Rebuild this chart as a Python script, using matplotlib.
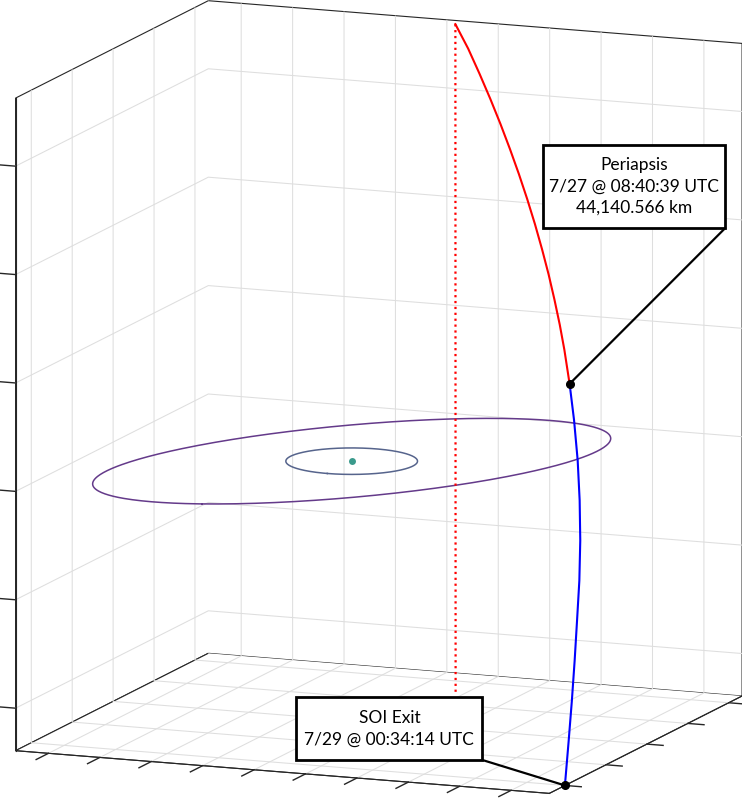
# -*- coding: UTF-8 -*-
import numpy as np
import matplotlib
matplotlib.use("Agg")
import matplotlib.pyplot as plt
from matplotlib.patches import Rectangle
from matplotlib.ticker import NullFormatter
from mpl_toolkits.mplot3d import proj3d

plt.rcParams['font.family'] = ['Lato', 'DejaVu Sans']

W_PX, H_PX = 742, 799

# axis limits and ticks (km), body at the origin
x_lim = (-46520, 47680)
y_lim = (-46400, 57420)
z_lim = (-47840, 72560)
x_ticks = [-40000, -20000, 0, 20000, 40000]
y_ticks = [-40000, -30000, -20000, -10000, 0, 10000, 20000, 30000, 40000, 50000]
z_ticks = [-40000, -20000, 0, 20000, 40000, 60000]

# orbits (km, deg)
inner_orbit_r = 11900
outer_orbit_r = 47000
outer_orbit_inc = 6.2
outer_orbit_node = -13.5

# inbound leg: SOI entry -> periapsis (km)
inbound_x = [-46280, -43330, -40330, -37350, -34370, -31410, -28460, -25520,
             -22600, -19680, -16780, -13890, -11010, -8140, -4270]
inbound_y = [1755, 5410, 8810, 12090, 15250, 18280, 21200, 23990,
             26660, 29200, 31630, 33910, 36090, 38130, 40690]
inbound_z = [71930, 68270, 64470, 60660, 56840, 53000, 49150, 45300,
             41430, 37550, 33650, 29750, 25830, 21900, 16540]
# outbound leg: periapsis -> SOI exit (km)
outbound_x = [-4270, -180, 4330, 8810, 13260, 17680, 22080, 26470, 30850, 35230, 40040]
outbound_y = [40690, 43180, 45680, 47850, 49740, 51320, 52620, 53900, 55100, 56220, 57410]
outbound_z = [16540, 10840, 4480, -1910, -8330, -14780, -21250, -27720, -34200, -40690, -47830]
# dotted guide from the SOI entry
guide_x = [-46280, -29820]
guide_y = [1755, 8350]
guide_z = [71930, -47800]

peri_label = "Periapsis\n7/27 @ 08:40:39 UTC\n44,140.566 km"
exit_label = "SOI Exit\n7/29 @ 00:34:14 UTC"

fig = plt.figure(figsize=(W_PX / 100, H_PX / 100), dpi=100)
ax = fig.add_subplot(projection='3d', proj_type='ortho')
ax.set_position([0, 0, 1, 1])
ax.view_init(elev=11.6, azim=21.7)
ax.set_xlim(x_lim)
ax.set_ylim(y_lim)
ax.set_zlim(z_lim)
ax.set_box_aspect((x_lim[1] - x_lim[0], y_lim[1] - y_lim[0], z_lim[1] - z_lim[0]))
ax.set_xticks(x_ticks)
ax.set_yticks(y_ticks)
ax.set_zticks(z_ticks)

for axis in (ax.xaxis, ax.yaxis, ax.zaxis):
    axis.set_major_formatter(NullFormatter())
    axis.set_pane_color((1, 1, 1, 1))
    axis.pane.set_edgecolor('#262626')
    axis.pane.set_linewidth(0.8)
    axis.line.set_color('#262626')
    axis.line.set_linewidth(0.8)
    axis._axinfo['grid'].update(color='#dedede', linewidth=0.75)
    axis._axinfo['tick']['linewidth'] = {True: 1.0, False: 0.5}

# ticks stick out of the box only
ax.xaxis._axinfo['tick'].update(inward_factor=0.38, outward_factor=0.0)
ax.yaxis._axinfo['tick'].update(inward_factor=0.8, outward_factor=0.0)
ax.zaxis._axinfo['tick'].update(inward_factor=0.0, outward_factor=0.4)
ax.zaxis._get_tickdir = lambda position: 1
ax.tick_params(colors='#262626')

# orbits
t = np.linspace(0, 2 * np.pi, 400)
ax.plot(inner_orbit_r * np.cos(t), inner_orbit_r * np.sin(t), np.zeros_like(t),
        color='#56648c', lw=1.1)
inc = np.radians(outer_orbit_inc)
node = np.radians(outer_orbit_node)
ox = outer_orbit_r * (np.cos(t) * np.cos(node) - np.sin(t) * np.cos(inc) * np.sin(node))
oy = outer_orbit_r * (np.cos(t) * np.sin(node) + np.sin(t) * np.cos(inc) * np.cos(node))
oz = outer_orbit_r * np.sin(t) * np.sin(inc)
ax.plot(ox, oy, oz, color='#643a8a', lw=1.1)
ax.plot([0], [0], [0], 'o', color='#3a9a8c', ms=5, mec='none')

# trajectory
ax.plot(guide_x, guide_y, guide_z, color='red', lw=1.6, ls=':')
ax.plot(inbound_x, inbound_y, inbound_z, color='red', lw=1.5)
ax.plot(outbound_x, outbound_y, outbound_z, color='blue', lw=1.5)
ax.plot([inbound_x[-1], outbound_x[-1]], [inbound_y[-1], outbound_y[-1]],
        [inbound_z[-1], outbound_z[-1]], 'o', color='k', ms=5.5)

# fit the box onto the canvas: back-bottom corner and back-top corner
fig.canvas.draw()


def to_disp(px, py, pz):
    xs, ys, _ = proj3d.proj_transform(px, py, pz, ax.get_proj())
    return ax.transData.transform((xs, ys))


bb = ax.get_position().transformed(fig.transFigure)
b_d = to_disp(x_lim[0], y_lim[0], z_lim[0])
t_d = to_disp(x_lim[0], y_lim[0], z_lim[1])
fb = (b_d - [bb.x0, bb.y0]) / bb.width
ft = (t_d - [bb.x0, bb.y0]) / bb.width
w = 652.6 / (ft[1] - fb[1])
x0 = 208.3 - fb[0] * w
y0 = (H_PX - 653.3) - fb[1] * w
ax.set_position([x0 / W_PX, y0 / H_PX, w / W_PX, w / H_PX])
fig.canvas.draw()

# annotation boxes (pixel layout, measured from top)
boxes = [
    (peri_label, (543.0, 144.7, 725.3, 228.0), (inbound_x[-1], inbound_y[-1], inbound_z[-1])),
    (exit_label, (296.4, 697.4, 482.4, 760.0), (outbound_x[-1], outbound_y[-1], outbound_z[-1])),
]
for label, (l, tp, r, btm), pt in boxes:
    xs, ys, _ = proj3d.proj_transform(*pt, ax.get_proj())
    ax.annotate('', xy=(xs, ys), xycoords='data',
                xytext=(r / W_PX, 1 - btm / H_PX), textcoords='figure fraction',
                arrowprops=dict(arrowstyle='-', color='k', lw=1.6, shrinkA=0, shrinkB=0),
                annotation_clip=False)
    fig.add_artist(Rectangle((l / W_PX, 1 - btm / H_PX), (r - l) / W_PX, (btm - tp) / H_PX,
                             transform=fig.transFigure, facecolor='white',
                             edgecolor='black', lw=2.0, zorder=5))
    fig.text((l + r) / 2 / W_PX, 1 - (tp + btm) / 2 / H_PX, label, ha='center', va='center',
             fontsize=12.5, linespacing=1.42, color='black', zorder=6)

fig.savefig("out.png", dpi=100)
